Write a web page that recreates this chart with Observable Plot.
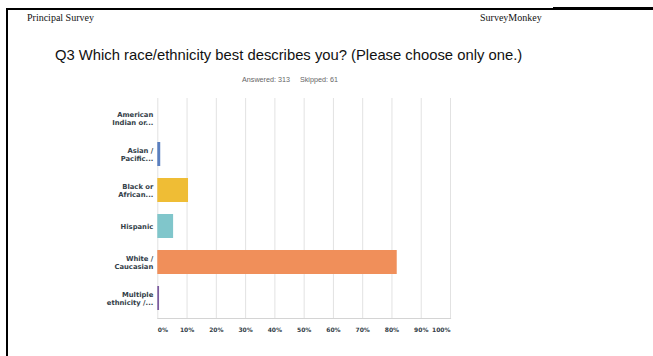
<!DOCTYPE html>
<html>
<head>
<meta charset="utf-8">
<script src="https://cdn.jsdelivr.net/npm/d3@7"></script>
<script src="https://cdn.jsdelivr.net/npm/@observablehq/plot@0.6"></script>
<style>
  html, body { margin: 0; padding: 0; background: #fff; }
  #page { position: relative; width: 653px; height: 356px; overflow: hidden; background: #fff; }
  .abs { position: absolute; white-space: nowrap; }
  #hdrL { left: 27px; top: 12px; font: 10px "Liberation Serif", serif; color: #111; }
  #hdrR { left: 480px; top: 12px; font: 10px "Liberation Serif", serif; color: #111; }
  #title { left: 55px; top: 47px; font: 14.8px "Liberation Sans", Arial, sans-serif; color: #111; }
  #sub { left: 242px; top: 75px; font: 7.2px "Liberation Sans", Arial, sans-serif; color: #666; }
  #chart { position: absolute; left: 0; top: 0; }
  #lineTop1 { left: 7px; top: 8px; width: 546px; height: 1.5px; background: #000; }
  #lineTop2 { left: 553px; top: 7px; width: 100px; height: 3px; background: #000; }
  #lineLeft { left: 6px; top: 8px; width: 2.4px; height: 348px; background: #000; }
</style>
</head>
<body>
<div id="page">
  <div id="chart"></div>
  <div class="abs" id="lineTop1"></div>
  <div class="abs" id="lineTop2"></div>
  <div class="abs" id="lineLeft"></div>
  <div class="abs" id="hdrL">Principal Survey</div>
  <div class="abs" id="hdrR">SurveyMonkey</div>
  <div class="abs" id="title">Q3 Which race/ethnicity best describes you? (Please choose only one.)</div>
  <div class="abs" id="sub">Answered: 313&nbsp;&nbsp;&nbsp;&nbsp;&nbsp;Skipped: 61</div>
</div>
<script>
const categories = [
  "American\nIndian or...",
  "Asian /\nPacific...",
  "Black or\nAfrican...",
  "Hispanic",
  "White /\nCaucasian",
  "Multiple\nethnicity /..."
];
const percents = [0, 1.0, 10.5, 5.4, 81.8, 0.6];
const barColors = ["#6a8cc7", "#5a7fbf", "#efbd35", "#80c6cb", "#f08f5a", "#7b5b9f"];
const xTicks = [0, 10, 20, 30, 40, 50, 60, 70, 80, 90, 100];

const data = categories.map((c, i) => ({category: c, value: percents[i], color: barColors[i]}));
const tickFont = "DejaVu Sans, sans-serif";

const chart = Plot.plot({
  width: 653,
  height: 356,
  marginLeft: 157.3,
  marginRight: 203,
  marginTop: 98,
  marginBottom: 38,
  style: {background: "transparent", fontFamily: tickFont},
  x: {domain: [0, 100], axis: null},
  y: {domain: categories, paddingInner: 0.32, paddingOuter: 0.16, axis: null},
  marks: [
    Plot.gridX(xTicks, {stroke: "#e2e2e2", strokeOpacity: 1, strokeWidth: 1}),
    Plot.barX(data, {y: "category", x: "value", fill: "color"}),
    Plot.frame({anchor: "bottom", stroke: "#d4d4d4", strokeWidth: 1.2}),
    Plot.text(categories, {
      x: 0, y: d => d, text: d => d, textAnchor: "end", dx: -4.5,
      fontSize: 6.8, fontWeight: "bold", fill: "#333e48", lineHeight: 1.18
    }),
    Plot.axisX(xTicks.filter(d => d > 0 && d < 100), {
      tickSize: 0, tickPadding: 9, tickFormat: d => d + "%",
      fontSize: 6, fontWeight: "bold", fill: "#333e48", label: null
    }),
    Plot.axisX([0], {
      tickSize: 0, tickPadding: 9, tickFormat: d => d + "%", textAnchor: "start",
      fontSize: 6, fontWeight: "bold", fill: "#333e48", label: null
    }),
    Plot.axisX([100], {
      tickSize: 0, tickPadding: 9, tickFormat: d => d + "%", textAnchor: "end",
      fontSize: 6, fontWeight: "bold", fill: "#333e48", label: null
    })
  ]
});
document.getElementById("chart").appendChild(chart);
</script>
</body>
</html>
